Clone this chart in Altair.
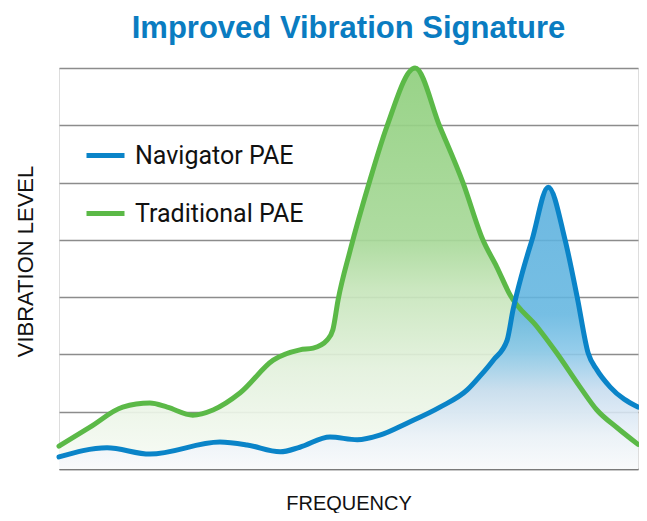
import altair as alt
import pandas as pd

# ---- data ----
series_names = ["Navigator PAE", "Traditional PAE"]
series_colors = ["#0a84c8", "#5bb947"]

nav_freq = [0, 8.3, 15.7, 27.8, 32.5, 38.2, 41.6, 46.8, 51.5, 55.4, 60.1, 65.8,
            70.5, 72.7, 75.0, 77.4, 78.4, 80.0, 81.7, 84.5, 87.4, 89.5, 91.4,
            92.9, 95.2, 100]
nav_level = [0.21, 0.37, 0.26, 0.47, 0.42, 0.30, 0.38, 0.56, 0.51, 0.59, 0.80, 1.08,
             1.38, 1.62, 1.90, 2.25, 2.77, 3.42, 4.00, 4.92, 4.00, 3.00, 2.02,
             1.73, 1.43, 1.08]

trad_freq = [0, 5.35, 11.0, 15.7, 18.7, 23.1, 26.6, 31.3, 37.0, 41.6, 43.9, 46.3,
             47.3, 48.2, 50.3, 53.7, 56.6, 61.5, 65.8, 69.8, 73.2, 75.6, 77.9,
             82.6, 86.0, 90.0, 92.9, 96.4, 100]
trad_level = [0.40, 0.73, 1.08, 1.15, 1.08, 0.94, 1.03, 1.33, 1.90, 2.08, 2.11, 2.25,
              2.43, 2.95, 3.82, 5.04, 5.97, 7.00, 5.97, 4.99, 4.00, 3.53, 3.04,
              2.48, 2.02, 1.43, 1.03, 0.72, 0.43]

gridlines = [0, 1, 2, 3, 4, 5, 6, 7]

df = pd.concat([
    pd.DataFrame({"freq": nav_freq, "level": nav_level, "series": series_names[0]}),
    pd.DataFrame({"freq": trad_freq, "level": trad_level, "series": series_names[1]}),
], ignore_index=True)

x_enc = alt.X(
    "freq:Q",
    scale=alt.Scale(domain=[0, 100], nice=False, zero=False),
    axis=alt.Axis(title="FREQUENCY", labels=False, ticks=False, grid=False,
                  domain=True, domainColor="#7a7a7a", domainWidth=1.5,
                  titleFont="Liberation Sans", titleFontSize=20,
                  titleFontWeight="normal", titleColor="#111111",
                  titlePadding=24),
)
y_enc = alt.Y(
    "level:Q",
    scale=alt.Scale(domain=[0, 7], nice=False, zero=True),
    axis=alt.Axis(title="VIBRATION LEVEL", labels=False, ticks=False,
                  domain=False, grid=True, gridColor="#8c8c8c", gridWidth=1.5,
                  values=gridlines,
                  titleFont="Liberation Sans", titleFontSize=22,
                  titleFontWeight="normal", titleColor="#111111",
                  titlePadding=22, titleY=193),
)

green_grad = alt.Gradient(
    gradient="linear", x1=0, x2=0, y1=0, y2=1,
    stops=[
        alt.GradientStop(color="#8fcf7d", offset=0),
        alt.GradientStop(color="#a8d999", offset=0.43),
        alt.GradientStop(color="#c6e5ba", offset=0.55),
        alt.GradientStop(color="#e3f1dd", offset=0.75),
        alt.GradientStop(color="#f8fbf6", offset=1),
    ],
)
blue_grad = alt.Gradient(
    gradient="linear", x1=0, x2=0, y1=0, y2=1,
    stops=[
        alt.GradientStop(color="#5aafdd", offset=0),
        alt.GradientStop(color="#63b6e0", offset=0.45),
        alt.GradientStop(color="#86c6e8", offset=0.58),
        alt.GradientStop(color="#c6dcef", offset=0.72),
        alt.GradientStop(color="#eaf1f8", offset=0.88),
        alt.GradientStop(color="#f9fafc", offset=1),
    ],
)

base = alt.Chart(df)

green_area = base.transform_filter(alt.datum.series == series_names[1]).mark_area(
    interpolate="monotone", color=green_grad, opacity=0.92
).encode(x=x_enc, y=y_enc)

blue_area = base.transform_filter(alt.datum.series == series_names[0]).mark_area(
    interpolate="monotone", color=blue_grad, opacity=0.88
).encode(x=x_enc, y=y_enc)

color_enc = alt.Color(
    "series:N",
    scale=alt.Scale(domain=series_names, range=series_colors),
    legend=alt.Legend(
        title=None, orient="none", legendX=25, legendY=66,
        symbolType="stroke", symbolStrokeWidth=5, symbolSize=1444,
        labelFont="Roboto", labelFontSize=25, labelColor="#111111",
        labelOffset=8, rowPadding=23, labelLimit=300,
    ),
)

green_line = base.transform_filter(alt.datum.series == series_names[1]).mark_line(
    interpolate="monotone", strokeWidth=5, strokeCap="round", strokeJoin="round"
).encode(x=x_enc, y=y_enc, color=color_enc)

blue_line = base.transform_filter(alt.datum.series == series_names[0]).mark_line(
    interpolate="monotone", strokeWidth=5, strokeCap="round", strokeJoin="round"
).encode(x=x_enc, y=y_enc, color=color_enc)

chart = alt.layer(green_area, blue_area, green_line, blue_line).properties(
    width=579, height=401,
    title=alt.TitleParams(
        "Improved Vibration Signature", font="Liberation Sans", fontSize=31,
        fontWeight="bold", color="#0a7cc1", anchor="middle",
        baseline="alphabetic", offset=-3,
    ),
    autosize=alt.AutoSizeParams(type="none"),
    padding={"left": 51, "top": 60, "right": 1, "bottom": 44},
).configure_view(stroke=None).configure(background="white")

chart.save("out.html", embed_options={"renderer": "svg", "actions": False})
